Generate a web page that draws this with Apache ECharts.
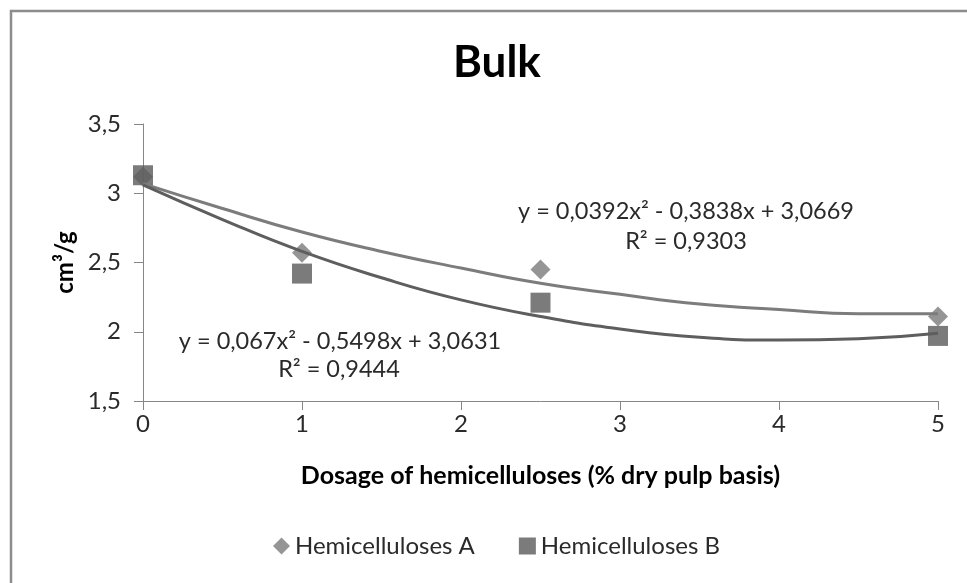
<!DOCTYPE html>
<html>
<head>
<meta charset="utf-8">
<script src="https://cdn.jsdelivr.net/npm/echarts@6/dist/echarts.min.js"></script>
<style>
  html, body { margin: 0; padding: 0; background: #fff; }
  #chart { width: 967px; height: 583px; }
</style>
</head>
<body>
<div id="chart"></div>
<script>
// dosage points (% dry pulp basis)
const dosage = [0, 1, 2.5, 5];
const bulkA = [3.12, 2.57, 2.45, 2.11];
const bulkB = [3.13, 2.42, 2.21, 1.97];

// trendline readings along the curves
const trendX = [0, 0.5, 1, 1.5, 2, 2.5, 3, 3.5, 4, 4.5, 5];
const trendA = [3.07, 2.89, 2.72, 2.58, 2.46, 2.35, 2.27, 2.2, 2.16, 2.13, 2.13];
const trendB = [3.06, 2.81, 2.58, 2.39, 2.23, 2.11, 2.02, 1.96, 1.94, 1.95, 1.99];

const eqA = ["y = 0,0392x² - 0,3838x + 3,0669", "R² = 0,9303"];
const eqB = ["y = 0,067x² - 0,5498x + 3,0631", "R² = 0,9444"];

const FONT = "Lato";
const chart = echarts.init(document.getElementById("chart"));

const pairs = (xs, ys) => xs.map((x, i) => [x, ys[i]]);
const comma = v => String(v).replace(".", ",");

chart.setOption({
  animation: false,
  backgroundColor: "#fff",
  textStyle: { fontFamily: FONT },
  title: {
    text: "Bulk",
    left: 448,
    top: 36,
    textStyle: { fontFamily: FONT, fontSize: 44, fontWeight: "bold", color: "#000" }
  },
  grid: { left: 143, right: 29, top: 124, bottom: 182 },
  xAxis: {
    type: "value",
    min: 0,
    max: 5,
    interval: 1,
    name: "Dosage of hemicelluloses (% dry pulp basis)",
    nameLocation: "middle",
    nameGap: 62,
    nameTextStyle: { fontFamily: FONT, fontSize: 25, fontWeight: "bold", color: "#000" },
    axisLine: { lineStyle: { color: "#868686", width: 1 } },
    axisTick: { show: true, length: 9, lineStyle: { color: "#868686" } },
    axisLabel: { fontFamily: FONT, fontSize: 24, color: "#2a2a2a", margin: 11 },
    splitLine: { show: false }
  },
  yAxis: {
    type: "value",
    min: 1.5,
    max: 3.5,
    interval: 0.5,
    name: "cm³/g",
    nameLocation: "middle",
    nameRotate: 90,
    nameGap: 53,
    nameTextStyle: { fontFamily: FONT, fontSize: 24, fontWeight: "bold", color: "#000" },
    axisLine: { show: true, lineStyle: { color: "#868686", width: 1 } },
    axisTick: { show: true, length: 9, lineStyle: { color: "#868686" } },
    axisLabel: { fontFamily: FONT, fontSize: 24, color: "#2a2a2a", margin: 22, formatter: comma },
    splitLine: { show: false }
  },
  legend: {
    data: ["Hemicelluloses A", "Hemicelluloses B"],
    bottom: 20,
    left: 268,
    itemGap: 44,
    itemWidth: 17,
    itemHeight: 17,
    textStyle: { fontFamily: FONT, fontSize: 24, color: "#2a2a2a" }
  },
  graphic: [
    {
      type: "rect",
      shape: { x: 11, y: 11, width: 990, height: 600 },
      style: { fill: "none", stroke: "#8c8c8c", lineWidth: 2.5 },
      silent: true
    },
    {
      type: "text", x: 686, y: 211,
      style: { text: eqA[0], font: "23.5px " + FONT, fill: "#2a2a2a", textAlign: "center", textVerticalAlign: "middle" }
    },
    {
      type: "text", x: 686, y: 241,
      style: { text: eqA[1], font: "23.5px " + FONT, fill: "#2a2a2a", textAlign: "center", textVerticalAlign: "middle" }
    },
    {
      type: "text", x: 340, y: 341,
      style: { text: eqB[0], font: "23.5px " + FONT, fill: "#2a2a2a", textAlign: "center", textVerticalAlign: "middle" }
    },
    {
      type: "text", x: 339, y: 369,
      style: { text: eqB[1], font: "23.5px " + FONT, fill: "#2a2a2a", textAlign: "center", textVerticalAlign: "middle" }
    }
  ],
  series: [
    {
      name: "Hemicelluloses A",
      type: "scatter",
      symbol: "diamond",
      symbolSize: 20,
      itemStyle: { color: "#7a7a7a" },
      data: pairs(dosage, bulkA),
      z: 3
    },
    {
      name: "Hemicelluloses B",
      type: "scatter",
      symbol: "rect",
      symbolSize: 20,
      itemStyle: { color: "#5a5a5a" },
      data: pairs(dosage, bulkB),
      z: 3
    },
    {
      name: "Trend A",
      type: "line",
      smooth: true,
      showSymbol: false,
      lineStyle: { color: "#7c7c7c", width: 3 },
      data: pairs(trendX, trendA),
      z: 4
    },
    {
      name: "Trend B",
      type: "line",
      smooth: true,
      showSymbol: false,
      lineStyle: { color: "#5e5e5e", width: 3 },
      data: pairs(trendX, trendB),
      z: 4
    }
  ]
});
</script>
</body>
</html>
